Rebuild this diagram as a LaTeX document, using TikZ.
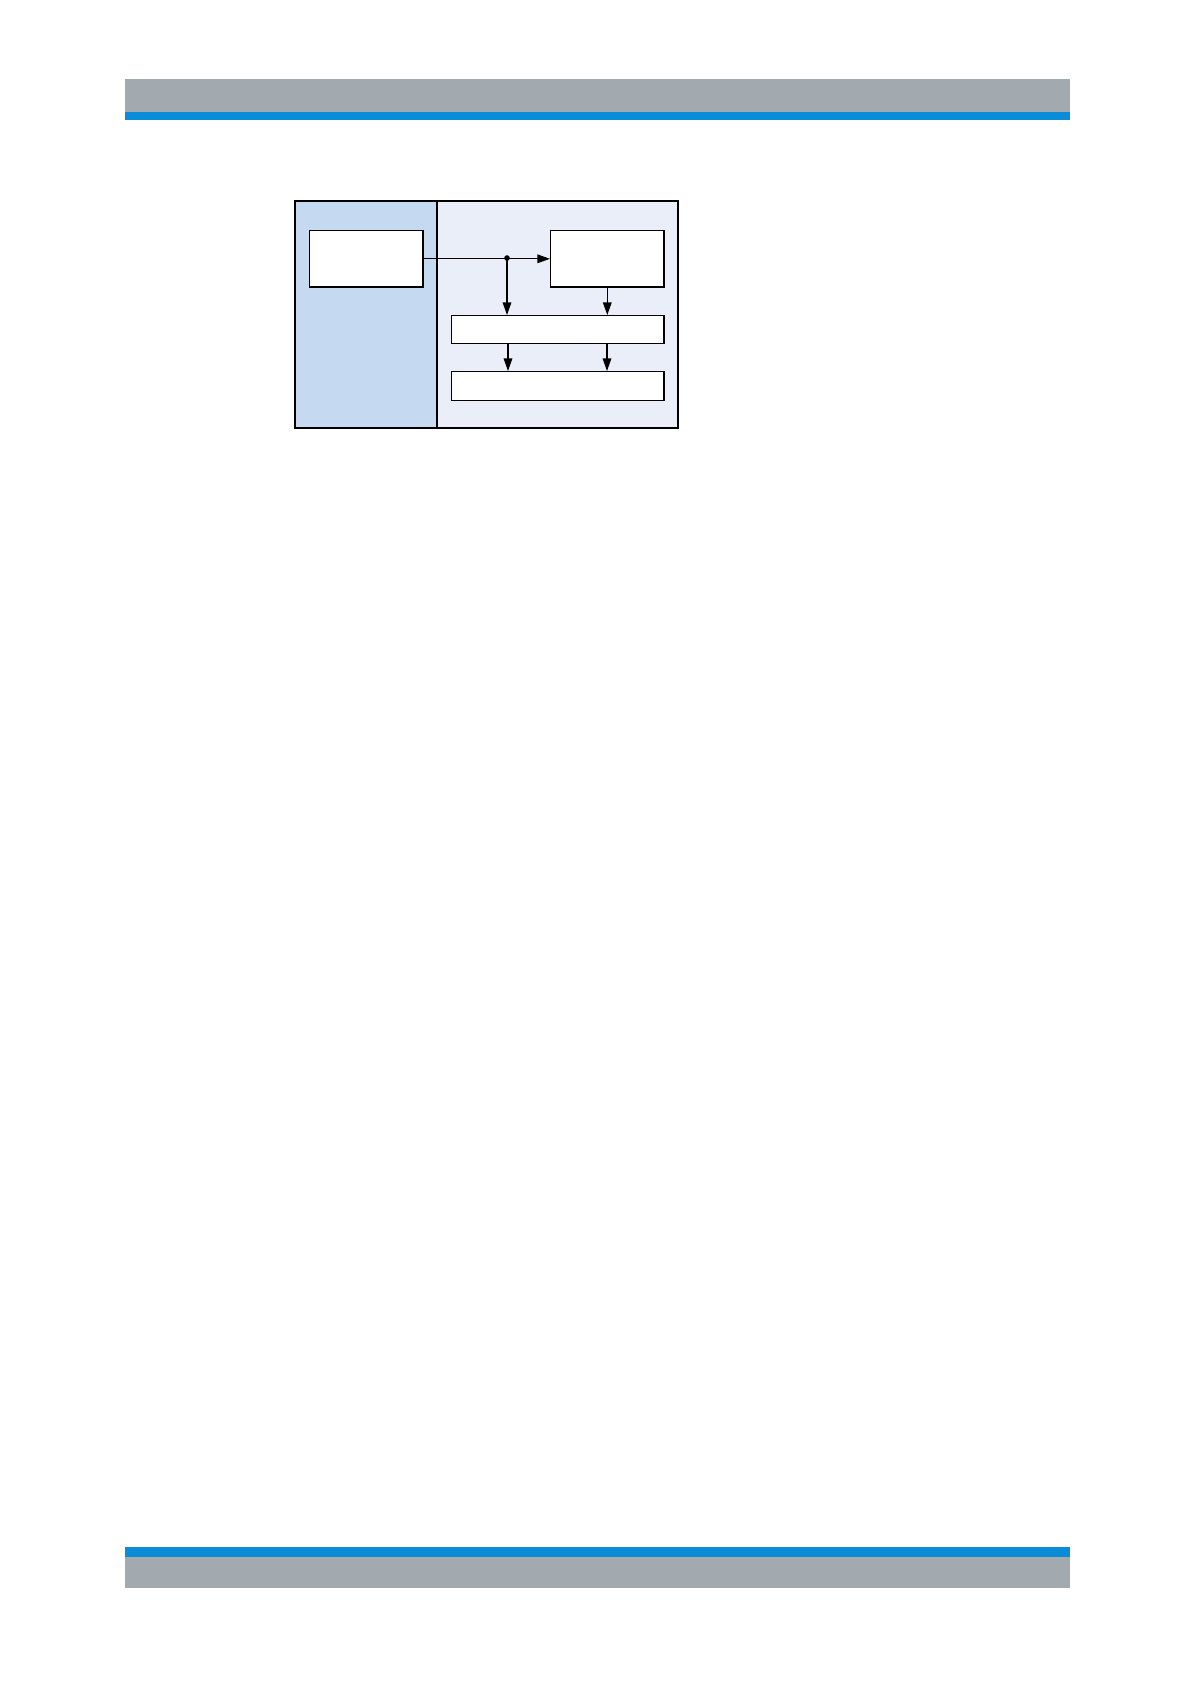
\documentclass[tikz,border=0pt]{standalone}
\usetikzlibrary{arrows.meta}

\definecolor{bargrey}{HTML}{A2AAB0}
\definecolor{barblue}{HTML}{0B8CD6}
\definecolor{panelleft}{HTML}{C5D9F0}
\definecolor{panelright}{HTML}{E9EEF8}

\tikzset{
  blockbox/.style = {draw, fill = white, line width = 0.6pt, anchor = north west,
    inner sep = 0pt},
  flow/.style = {line width = 0.6pt, -{Triangle[length = 6.3pt, width = 4.3pt]}}
}

\begin{document}
\begin{tikzpicture}[x = 0.5bp, y = -0.5bp]
  \useasboundingbox (0, 0) rectangle (1191, 1684);

  % page bars
  \fill[bargrey] (125, 79) rectangle (1070, 112);
  \fill[barblue] (125, 112) rectangle (1070, 120);
  \fill[barblue] (125, 1547) rectangle (1070, 1557);
  \fill[bargrey] (125, 1557) rectangle (1070, 1588);

  % panels
  \fill[panelleft] (295, 201) rectangle (437, 428);
  \fill[panelright] (437, 201) rectangle (678, 428);
  \draw[line width = 0.6pt] (295, 201) rectangle (678, 428);
  \draw[line width = 0.6pt] (437, 201) -- (437, 428);

  \node[blockbox, minimum width = 113.4bp/2, minimum height = 56.4bp/2]
    (source) at (309, 230) {};
  \node[blockbox, minimum width = 113.4bp/2, minimum height = 56.4bp/2]
    (ctrl) at (550, 230) {};
  \node[blockbox, minimum width = 212.4bp/2, minimum height = 28bp/2]
    (stage) at (451, 315) {};
  \node[blockbox, minimum width = 212.4bp/2, minimum height = 29bp/2]
    (output) at (451, 371) {};

  \coordinate (split) at (507, 258);
  \draw[flow] (source.east) -- (ctrl.west);
  \fill (split) circle[radius = 2.8bp/2];
  \draw[flow] (split) -- (split |- stage.north);
  \draw[flow] (ctrl.south) -- (ctrl.south |- stage.north);

  \foreach \xx in {508, 607}{
    \draw[flow] (\xx, 0 |- stage.south) -- (\xx, 0 |- output.north);
  }
\end{tikzpicture}
\end{document}
